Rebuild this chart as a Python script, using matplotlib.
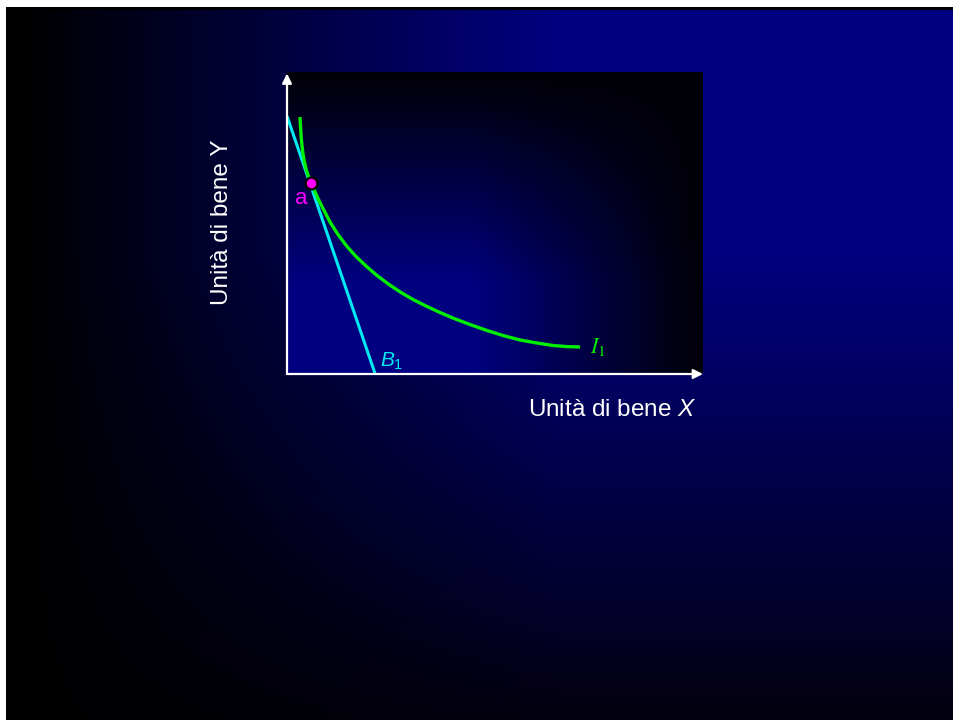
import numpy as np
import matplotlib
matplotlib.use("Agg")
import matplotlib.pyplot as plt

plt.rcParams['font.family'] = ['Liberation Sans', 'DejaVu Sans']
plt.rcParams['mathtext.fontset'] = 'custom'
plt.rcParams['mathtext.rm'] = 'Liberation Sans'
plt.rcParams['mathtext.it'] = 'Liberation Sans:italic'

# ---- data (axis units 0..10) ----
budget_x = [0.0, 2.12]
budget_y = [8.54, 0.0]
indiff_x = [0.3125, 0.3293, 0.3510, 0.3798, 0.4159, 0.4615, 0.5168, 0.5769, 0.6490, 0.7452,
            0.8654, 1.0337, 1.2260, 1.4423, 1.6587, 1.8990, 2.1635, 2.4519, 2.7404, 3.0288,
            3.3413, 3.6779, 4.0144, 4.3990, 4.8077, 5.1923, 5.6010, 6.0096, 6.3942, 6.7308, 7.0433]
indiff_y = [8.510, 8.079, 7.682, 7.334, 7.036, 6.772, 6.540, 6.341, 6.109, 5.811,
            5.480, 5.033, 4.619, 4.222, 3.891, 3.576, 3.262, 2.964, 2.699, 2.467,
            2.252, 2.036, 1.838, 1.639, 1.440, 1.275, 1.126, 1.026, 0.944, 0.907, 0.894]
point_a = (0.57, 6.34)
x_label = "Unità di bene $\\mathit{X}$"
y_label = "Unità di bene Y"

W, H = 954, 720
fig = plt.figure(figsize=(W / 100, H / 100), dpi=100)

# ---- slide background ----
bg = fig.add_axes([0, 0, 1, 1])
yy, xx = np.mgrid[0:H, 0:W]
f = np.clip((xx - 17) / (560 - 17), 0, 1)
g = np.clip(1 - 0.88 * (yy - 250) / 470, 0.12, 1)
val = f * g
img = np.zeros((H, W, 3))
img[..., 0] = 4 / 255 * (1 - g) * f
img[..., 2] = val * 128 / 255
img[yy < 10] = 0
img[yy < 7] = 1
img[xx < 6] = 1
bg.imshow(img, extent=(0, W, H, 0), aspect='auto', interpolation='bilinear')
bg.set_xlim(0, W)
bg.set_ylim(H, 0)
bg.axis('off')

# ---- main axes ----
L, T, R, B = 287, 72, 703, 374
ax = fig.add_axes([L / W, 1 - B / H, (R - L) / W, (B - T) / H])
ax.set_xlim(0, 10)
ax.set_ylim(0, 10)
ax.axis('off')

h, w = 200, 300
vv, uu = np.mgrid[0:h, 0:w]
u = uu / (w - 1)
v = 1 - vv / (h - 1)
inner_val = np.clip((1 - u) / 0.55, 0, 1) * np.clip((1 - v) / 0.7, 0, 1)
inner = np.zeros((h, w, 3))
inner[..., 2] = (6 + inner_val * 122) / 255
inner[..., 0] = 2 / 255 * (1 - inner_val)
ax.imshow(inner, extent=(0, 10, 0, 10), aspect='auto', origin='upper', zorder=0, interpolation='bilinear')

# axes arrows
ax.annotate('', xy=(10.0, 0), xytext=(0, 0),
            arrowprops=dict(arrowstyle='-|>', color='white', lw=1.6, mutation_scale=14,
                            shrinkA=0, shrinkB=0), annotation_clip=False, zorder=5)
ax.annotate('', xy=(0, 9.95), xytext=(0, 0),
            arrowprops=dict(arrowstyle='-|>', color='white', lw=1.6, mutation_scale=14,
                            shrinkA=0, shrinkB=0), annotation_clip=False, zorder=5)

# budget line and indifference curve
ax.plot(budget_x, budget_y, color='#00E8F0', lw=2.2, solid_capstyle='butt', zorder=3, clip_on=False)
ax.plot(indiff_x, indiff_y, color='#00EE00', lw=2.4, solid_capstyle='butt',
        solid_joinstyle='round', zorder=3)
ax.plot([point_a[0]], [point_a[1]], 'o', ms=8.5, mfc='#FF00FF', mec='black', mew=1.6, zorder=6)

ax.text(0.19, 5.63, 'a', color='#FF00FF', fontsize=16, ha='left', va='baseline', zorder=6)
ax.text(2.24, 0.23, r'$\mathit{B}_{\mathrm{1}}$', color='#00E8F0', fontsize=15, ha='left', va='baseline', zorder=6)
ax.text(7.28, 0.70, r'$I_1$', color='#00EE00', fontsize=16, ha='left', va='baseline',
        math_fontfamily='stix', zorder=6)

fig.text(528 / W, 1 - 416 / H, x_label, color='white', fontsize=17.5, ha='left', va='baseline')
fig.text(222 / W, 1 - 222 / H, y_label, color='white', fontsize=17.5, ha='center', va='center', rotation=90)

fig.savefig('out.png', dpi=100)
